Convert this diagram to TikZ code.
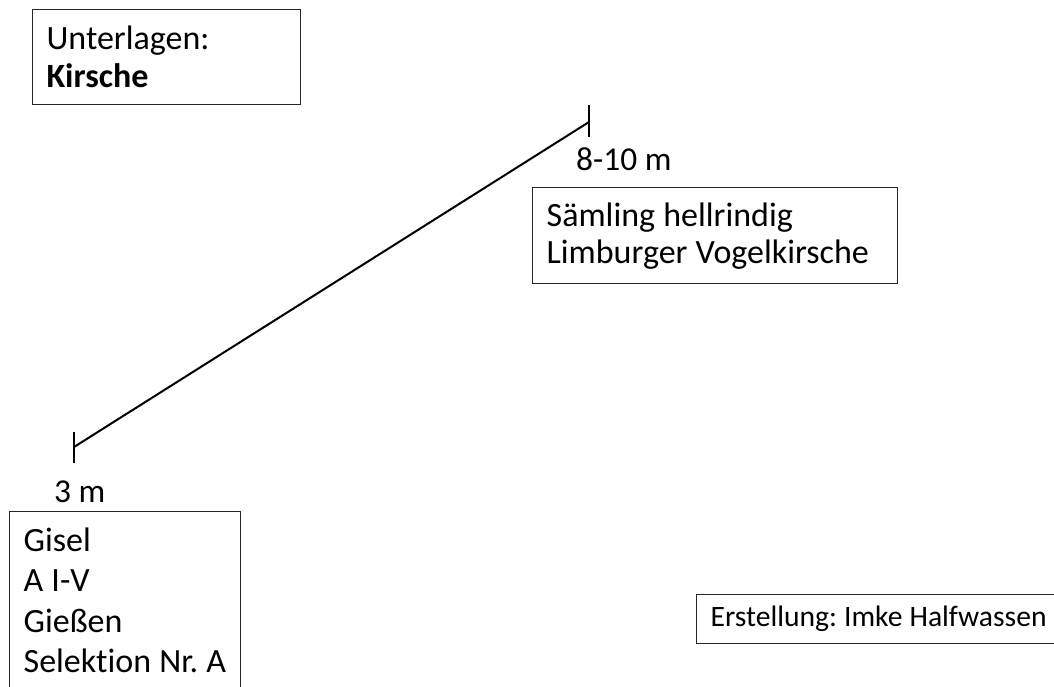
\documentclass[tikz,border=0pt]{standalone}
\usepackage{fontspec}
\setmainfont{Carlito}[Ligatures=NoCommon]
\frenchspacing
\begin{document}
\begin{tikzpicture}[x=1pt,y=-1pt,
  box/.style={draw=black!85, line width=1.3pt, anchor=north west, inner xsep=14pt, align=left,
    font=\fontsize{34}{38}\selectfont\frenchspacing,
    execute at begin node={\spaceskip=0.24em\relax}},
  lbl/.style={inner sep=0pt, anchor=base west, font=\fontsize{33.4}{38}\selectfont},
  bar/.style={line width=2pt, black}]
\clip (0,0) rectangle (1054,686);
\useasboundingbox (0,0) rectangle (1054,686);
\fill[white] (0,0) rectangle (1054,686);

\node[box, text width=240pt, minimum height=95pt] (unterlagen) at (32,9)
  {Unterlagen:\\\textbf{Kirsche}};

\node[box, text width=337pt, minimum height=96pt, font=\fontsize{34}{37}\selectfont\frenchspacing] (hoch) at (532,187)
  {Sämling hellrindig\\Limburger Vogelkirsche};

\node[box, text width=203pt, inner ysep=16pt, font=\fontsize{34}{40.5}\selectfont\frenchspacing] (niedrig) at (9,511)
  {Gisel\\A I-V\\Gießen\\\mbox{Selektion Nr. A}\\[40pt]};

\node[box, text width=340pt, minimum height=49pt, font=\fontsize{29.6}{30}\selectfont\frenchspacing] (erst) at (696,594)
  {\mbox{Erstellung: Imke Halfwassen}};

\node[lbl] (h) at (576,170) {8-10 m};
\node[lbl] (n) at (54,502) {3 m};

\coordinate (top) at (589,122);
\coordinate (bot) at (74,447);
\coordinate (topA) at (589,105);
\coordinate (topB) at (589,137);
\coordinate (botA) at (74,432);
\coordinate (botB) at (74,463);

\draw[bar] (bot) -- (top);
\draw[bar] (topA) -- (topB);
\draw[bar] (botA) -- (botB);
\end{tikzpicture}
\end{document}
